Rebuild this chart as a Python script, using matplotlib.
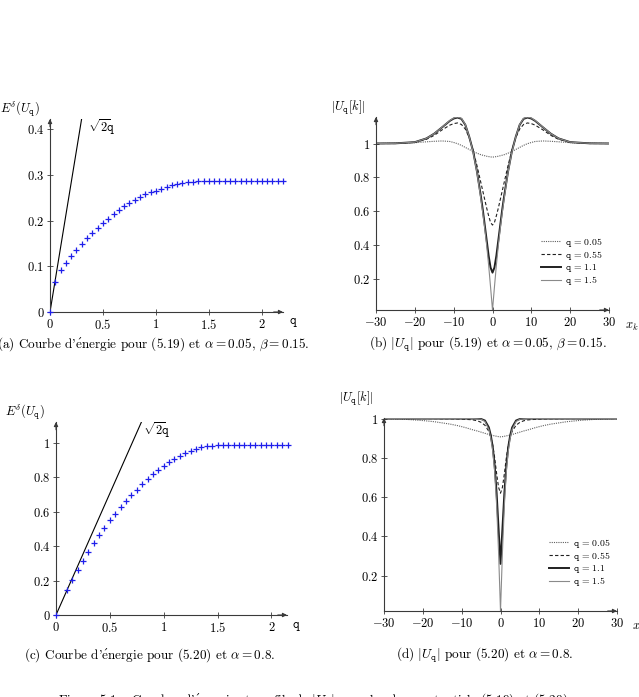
import matplotlib
matplotlib.use('Agg')
import matplotlib.pyplot as plt
import numpy as np

plt.rcParams['mathtext.fontset'] = 'cm'
plt.rcParams['font.family'] = ['cmr10', 'DejaVu Serif']
plt.rcParams['axes.unicode_minus'] = False

# ---------------- data ----------------
# (a) energy curve for (5.19), alpha=0.05, beta=0.15
q_a = [0.00, 0.05, 0.10, 0.15, 0.20, 0.25, 0.30, 0.35, 0.40, 0.45,
       0.50, 0.55, 0.60, 0.65, 0.70, 0.75, 0.80, 0.85, 0.90, 0.95,
       1.00, 1.05, 1.10, 1.15, 1.20, 1.25, 1.30, 1.35, 1.40, 1.45,
       1.50, 1.55, 1.60, 1.65, 1.70, 1.75, 1.80, 1.85, 1.90, 1.95,
       2.00, 2.05, 2.10, 2.15, 2.20]
E_a = [0.000, 0.065, 0.091, 0.107, 0.122, 0.136, 0.149, 0.161, 0.173, 0.184,
       0.194, 0.204, 0.214, 0.223, 0.231, 0.238, 0.245, 0.252, 0.258, 0.262,
       0.265, 0.270, 0.274, 0.277, 0.280, 0.282, 0.284, 0.285, 0.286, 0.286,
       0.286, 0.286, 0.286, 0.286, 0.286, 0.286, 0.286, 0.286, 0.286, 0.286,
       0.286, 0.286, 0.286, 0.286, 0.286]

# (c) energy curve for (5.20), alpha=0.8
q_c = [0.00, 0.10, 0.15, 0.20, 0.25, 0.30, 0.35, 0.40, 0.45,
       0.50, 0.55, 0.60, 0.65, 0.70, 0.75, 0.80, 0.85, 0.90, 0.95,
       1.00, 1.05, 1.10, 1.15, 1.20, 1.25, 1.30, 1.35, 1.40, 1.45,
       1.50, 1.55, 1.60, 1.65, 1.70, 1.75, 1.80, 1.85, 1.90, 1.95,
       2.00, 2.05, 2.10, 2.15]
E_c = [0.000, 0.146, 0.202, 0.262, 0.315, 0.367, 0.416, 0.464, 0.507,
       0.551, 0.588, 0.629, 0.664, 0.699, 0.728, 0.759, 0.790, 0.819, 0.845,
       0.868, 0.887, 0.907, 0.924, 0.940, 0.953, 0.965, 0.975, 0.981, 0.984,
       0.986, 0.986, 0.986, 0.986, 0.986, 0.986, 0.986, 0.986, 0.986, 0.986,
       0.986, 0.986, 0.986, 0.986]

# (b),(d) profiles |U_q[k]|
x_k = [-30, -25, -20, -17, -15, -13, -11, -10, -9, -8, -7, -6, -5, -4, -3, -2.5, -2, -1.5, -1, -0.5,
       0, 0.5, 1, 1.5, 2, 2.5, 3, 4, 5, 6, 7, 8, 9, 10, 11, 13, 15, 17, 20, 25, 30]

U_b_005 = [1.000, 1.001, 1.005, 1.010, 1.013, 1.015, 1.012, 1.006, 0.999, 0.989, 0.977, 0.965, 0.953, 0.943, 0.934, 0.931, 0.928, 0.925, 0.923, 0.921,
           0.920, 0.921, 0.923, 0.925, 0.928, 0.931, 0.934, 0.943, 0.953, 0.965, 0.977, 0.989, 0.999, 1.006, 1.012, 1.015, 1.013, 1.010, 1.005, 1.001, 1.000]
U_b_055 = [1.000, 1.000, 1.007, 1.025, 1.048, 1.080, 1.108, 1.117, 1.121, 1.112, 1.085, 1.035, 0.960, 0.870, 0.770, 0.720, 0.670, 0.620, 0.575, 0.535,
           0.520, 0.535, 0.575, 0.620, 0.670, 0.720, 0.770, 0.870, 0.960, 1.035, 1.085, 1.112, 1.121, 1.117, 1.108, 1.080, 1.048, 1.025, 1.007, 1.000, 1.000]
U_b_11 = [1.000, 1.001, 1.008, 1.030, 1.058, 1.095, 1.133, 1.147, 1.153, 1.145, 1.110, 1.040, 0.955, 0.835, 0.690, 0.610, 0.520, 0.430, 0.340, 0.270,
          0.240, 0.270, 0.340, 0.430, 0.520, 0.610, 0.690, 0.835, 0.955, 1.040, 1.110, 1.145, 1.153, 1.147, 1.133, 1.095, 1.058, 1.030, 1.008, 1.001, 1.000]
U_b_15 = [1.000, 1.001, 1.008, 1.030, 1.058, 1.096, 1.135, 1.150, 1.156, 1.148, 1.112, 1.040, 0.950, 0.830, 0.675, 0.590, 0.500, 0.400, 0.285, 0.155,
          0.020, 0.155, 0.285, 0.400, 0.500, 0.590, 0.675, 0.830, 0.950, 1.040, 1.112, 1.148, 1.156, 1.150, 1.135, 1.096, 1.058, 1.030, 1.008, 1.001, 1.000]

U_d_005 = [1.000, 0.997, 0.990, 0.984, 0.978, 0.972, 0.964, 0.959, 0.954, 0.948, 0.942, 0.937, 0.931, 0.925, 0.919, 0.916, 0.914, 0.912, 0.910, 0.908,
           0.907, 0.908, 0.910, 0.912, 0.914, 0.916, 0.919, 0.925, 0.931, 0.937, 0.942, 0.948, 0.954, 0.959, 0.964, 0.972, 0.978, 0.984, 0.990, 0.997, 1.000]
U_d_055 = [1.000, 1.000, 1.000, 1.000, 0.999, 0.999, 0.998, 0.997, 0.996, 0.995, 0.993, 0.989, 0.981, 0.966, 0.935, 0.905, 0.865, 0.800, 0.720, 0.650,
           0.620, 0.650, 0.720, 0.800, 0.865, 0.905, 0.935, 0.966, 0.981, 0.989, 0.993, 0.995, 0.996, 0.997, 0.998, 0.999, 0.999, 1.000, 1.000, 1.000, 1.000]
U_d_11 = [1.000, 1.000, 1.000, 1.000, 1.000, 1.000, 1.000, 1.000, 1.000, 1.000, 1.000, 1.000, 0.998, 0.990, 0.955, 0.915, 0.855, 0.760, 0.620, 0.440,
          0.260, 0.440, 0.620, 0.760, 0.855, 0.915, 0.955, 0.990, 0.998, 1.000, 1.000, 1.000, 1.000, 1.000, 1.000, 1.000, 1.000, 1.000, 1.000, 1.000, 1.000]
U_d_15 = [1.000, 1.000, 1.000, 1.000, 1.000, 1.000, 1.000, 1.000, 1.000, 1.000, 1.000, 0.999, 0.997, 0.985, 0.945, 0.900, 0.835, 0.730, 0.560, 0.320,
          0.020, 0.320, 0.560, 0.730, 0.835, 0.900, 0.945, 0.985, 0.997, 0.999, 1.000, 1.000, 1.000, 1.000, 1.000, 1.000, 1.000, 1.000, 1.000, 1.000, 1.000]

legend_labels = [r'$\mathtt{q}\,=\,0.05$', r'$\mathtt{q}\,=\,0.55$', r'$\mathtt{q}\,=\,1.1$', r'$\mathtt{q}\,=\,1.5$']

E_ticks_a = [0, 0.1, 0.2, 0.3, 0.4]
E_ticks_c = [0, 0.2, 0.4, 0.6, 0.8, 1]
q_ticks = [0, 0.5, 1, 1.5, 2]
xk_ticks = [-30, -20, -10, 0, 10, 20, 30]
U_ticks = [0.2, 0.4, 0.6, 0.8, 1]

E_ACUTE = r'$\mathrm{\acute{e}}$'
captions = [r"(a) Courbe d'" + E_ACUTE + r"nergie pour (5.19) et $\alpha = 0.05$, $\beta = 0.15$.",
            r"(b) $|U_{\mathtt{q}}|$ pour (5.19) et $\alpha = 0.05$, $\beta = 0.15$.",
            r"(c) Courbe d'" + E_ACUTE + r"nergie pour (5.20) et $\alpha = 0.8$.",
            r"(d) $|U_{\mathtt{q}}|$ pour (5.20) et $\alpha = 0.8$."]
fig_caption = (r"Figure 5.1 – Courbes d'" + E_ACUTE +
               r"nergie et profils de $|U_{\mathtt{q}}|$ pour les deux potentiels (5.19) et (5.20).")

# ---------------- layout ----------------
W, H = 639, 697
fig = plt.figure(figsize=(W / 100, H / 100), dpi=100)


def box(l, r, b, t):
    return [l / W, 1 - b / H, (r - l) / W, (b - t) / H]


AX = '#3a3a3a'
TS = 9


def fmt(v):
    return r'$%s$' % ('%g' % v)


def style(ax, xticks, yticks, xlim, ylim):
    ax.set_xlim(xlim)
    ax.set_ylim(ylim)
    for s in ['top', 'right']:
        ax.spines[s].set_visible(False)
    for s in ['left', 'bottom']:
        ax.spines[s].set_color(AX)
        ax.spines[s].set_linewidth(0.8)
    ax.set_xticks(xticks)
    ax.set_xticklabels([fmt(v) for v in xticks])
    ax.set_yticks(yticks)
    ax.set_yticklabels([fmt(v) for v in yticks])
    ax.tick_params(direction='inout', length=4, width=0.6, color=AX, labelsize=TS, pad=2)
    ax.patch.set_visible(False)
    ap = dict(arrowstyle='-|>', color=AX, lw=0.8, mutation_scale=6, shrinkA=0, shrinkB=0)
    ax.annotate('', xy=(1.0, 0), xytext=(0.96, 0), xycoords='axes fraction', arrowprops=ap)
    ax.annotate('', xy=(0, 1.0), xytext=(0, 0.96), xycoords='axes fraction', arrowprops=ap)


axA = fig.add_axes(box(50, 283, 312, 119))
axB = fig.add_axes(box(376, 609, 310, 117))
axC = fig.add_axes(box(56, 287, 615, 422))
axD = fig.add_axes(box(384, 617, 611, 418))

blue = (0.12, 0.12, 0.92)
SQ = r'$\sqrt{2}\!\mathtt{q}$'

# (a)
style(axA, q_ticks, E_ticks_a, (0, 2.2), (0, 0.422))
axA.plot([0, 0.5], [0, np.sqrt(2) * 0.5], color='black', lw=0.8)
axA.plot(q_a, E_a, '+', color=blue, ms=5, mew=0.9, clip_on=False, zorder=3)
axA.text(0.163, 0.958, SQ, transform=axA.transAxes, ha='left', va='center', fontsize=TS)
axA.text(-0.129, 1.052, r'$E^{\delta}(U_{\mathtt{q}})$', transform=axA.transAxes, ha='center', va='center', fontsize=TS)
axA.text(1.043, -0.052, r'$\mathtt{q}$', transform=axA.transAxes, ha='center', va='center', fontsize=TS)

# (c)
style(axC, q_ticks, E_ticks_c, (0, 2.145), (0, 1.122))
axC.plot([0, 1.0], [0, np.sqrt(2) * 1.0], color='black', lw=0.8)
axC.plot(q_c, E_c, '+', color=blue, ms=5, mew=0.9, clip_on=False, zorder=3)
axC.text(0.377, 0.959, SQ, transform=axC.transAxes, ha='left', va='center', fontsize=TS)
axC.text(-0.134, 1.047, r'$E^{\delta}(U_{\mathtt{q}})$', transform=axC.transAxes, ha='center', va='center', fontsize=TS)
axC.text(1.039, -0.057, r'$\mathtt{q}$', transform=axC.transAxes, ha='center', va='center', fontsize=TS)

# (b), (d)
styles = [dict(color='#606060', lw=0.8, ls=(0, (1, 1))),
          dict(color='#202020', lw=0.8, ls=(0, (3, 2))),
          dict(color='#202020', lw=1.4, ls='-'),
          dict(color='#8a8a8a', lw=0.8, ls='-')]

for ax, series, ylim, ylab_y, xlab_x in [
        (axB, [U_b_005, U_b_055, U_b_11, U_b_15], (0.02, 1.156), 1.047, 1.069),
        (axD, [U_d_005, U_d_055, U_d_11, U_d_15], (0.02, 1.003), 1.098, 1.064)]:
    style(ax, xk_ticks, U_ticks, (-30, 30), ylim)
    for ser, st, lab in zip(series, styles, legend_labels):
        ax.plot(x_k, ser, label=lab, **st)
    ax.text(-0.12, ylab_y, r'$|U_{\mathtt{q}}[k]|$', transform=ax.transAxes, ha='center', va='center', fontsize=TS)
    ax.text(xlab_x, -0.09, r'$x_k$', transform=ax.transAxes, ha='left', va='center', fontsize=TS)
    leg = ax.legend(loc='upper left', bbox_to_anchor=(0.71, 0.385), frameon=False, fontsize=7,
                    handlelength=2.0, handletextpad=0.4, labelspacing=0.02, borderpad=0, borderaxespad=0)

# captions
cap_pos = [(153, 344), (488, 344), (150, 655), (485, 655)]
for (cx, cy), txt in zip(cap_pos, captions):
    fig.text(cx / W, 1 - cy / H, txt, ha='center', va='center', fontsize=9.5)
fig.text(315 / W, 1 - 701 / H, fig_caption, ha='center', va='center', fontsize=9.5)

fig.savefig('out.png', dpi=100)
